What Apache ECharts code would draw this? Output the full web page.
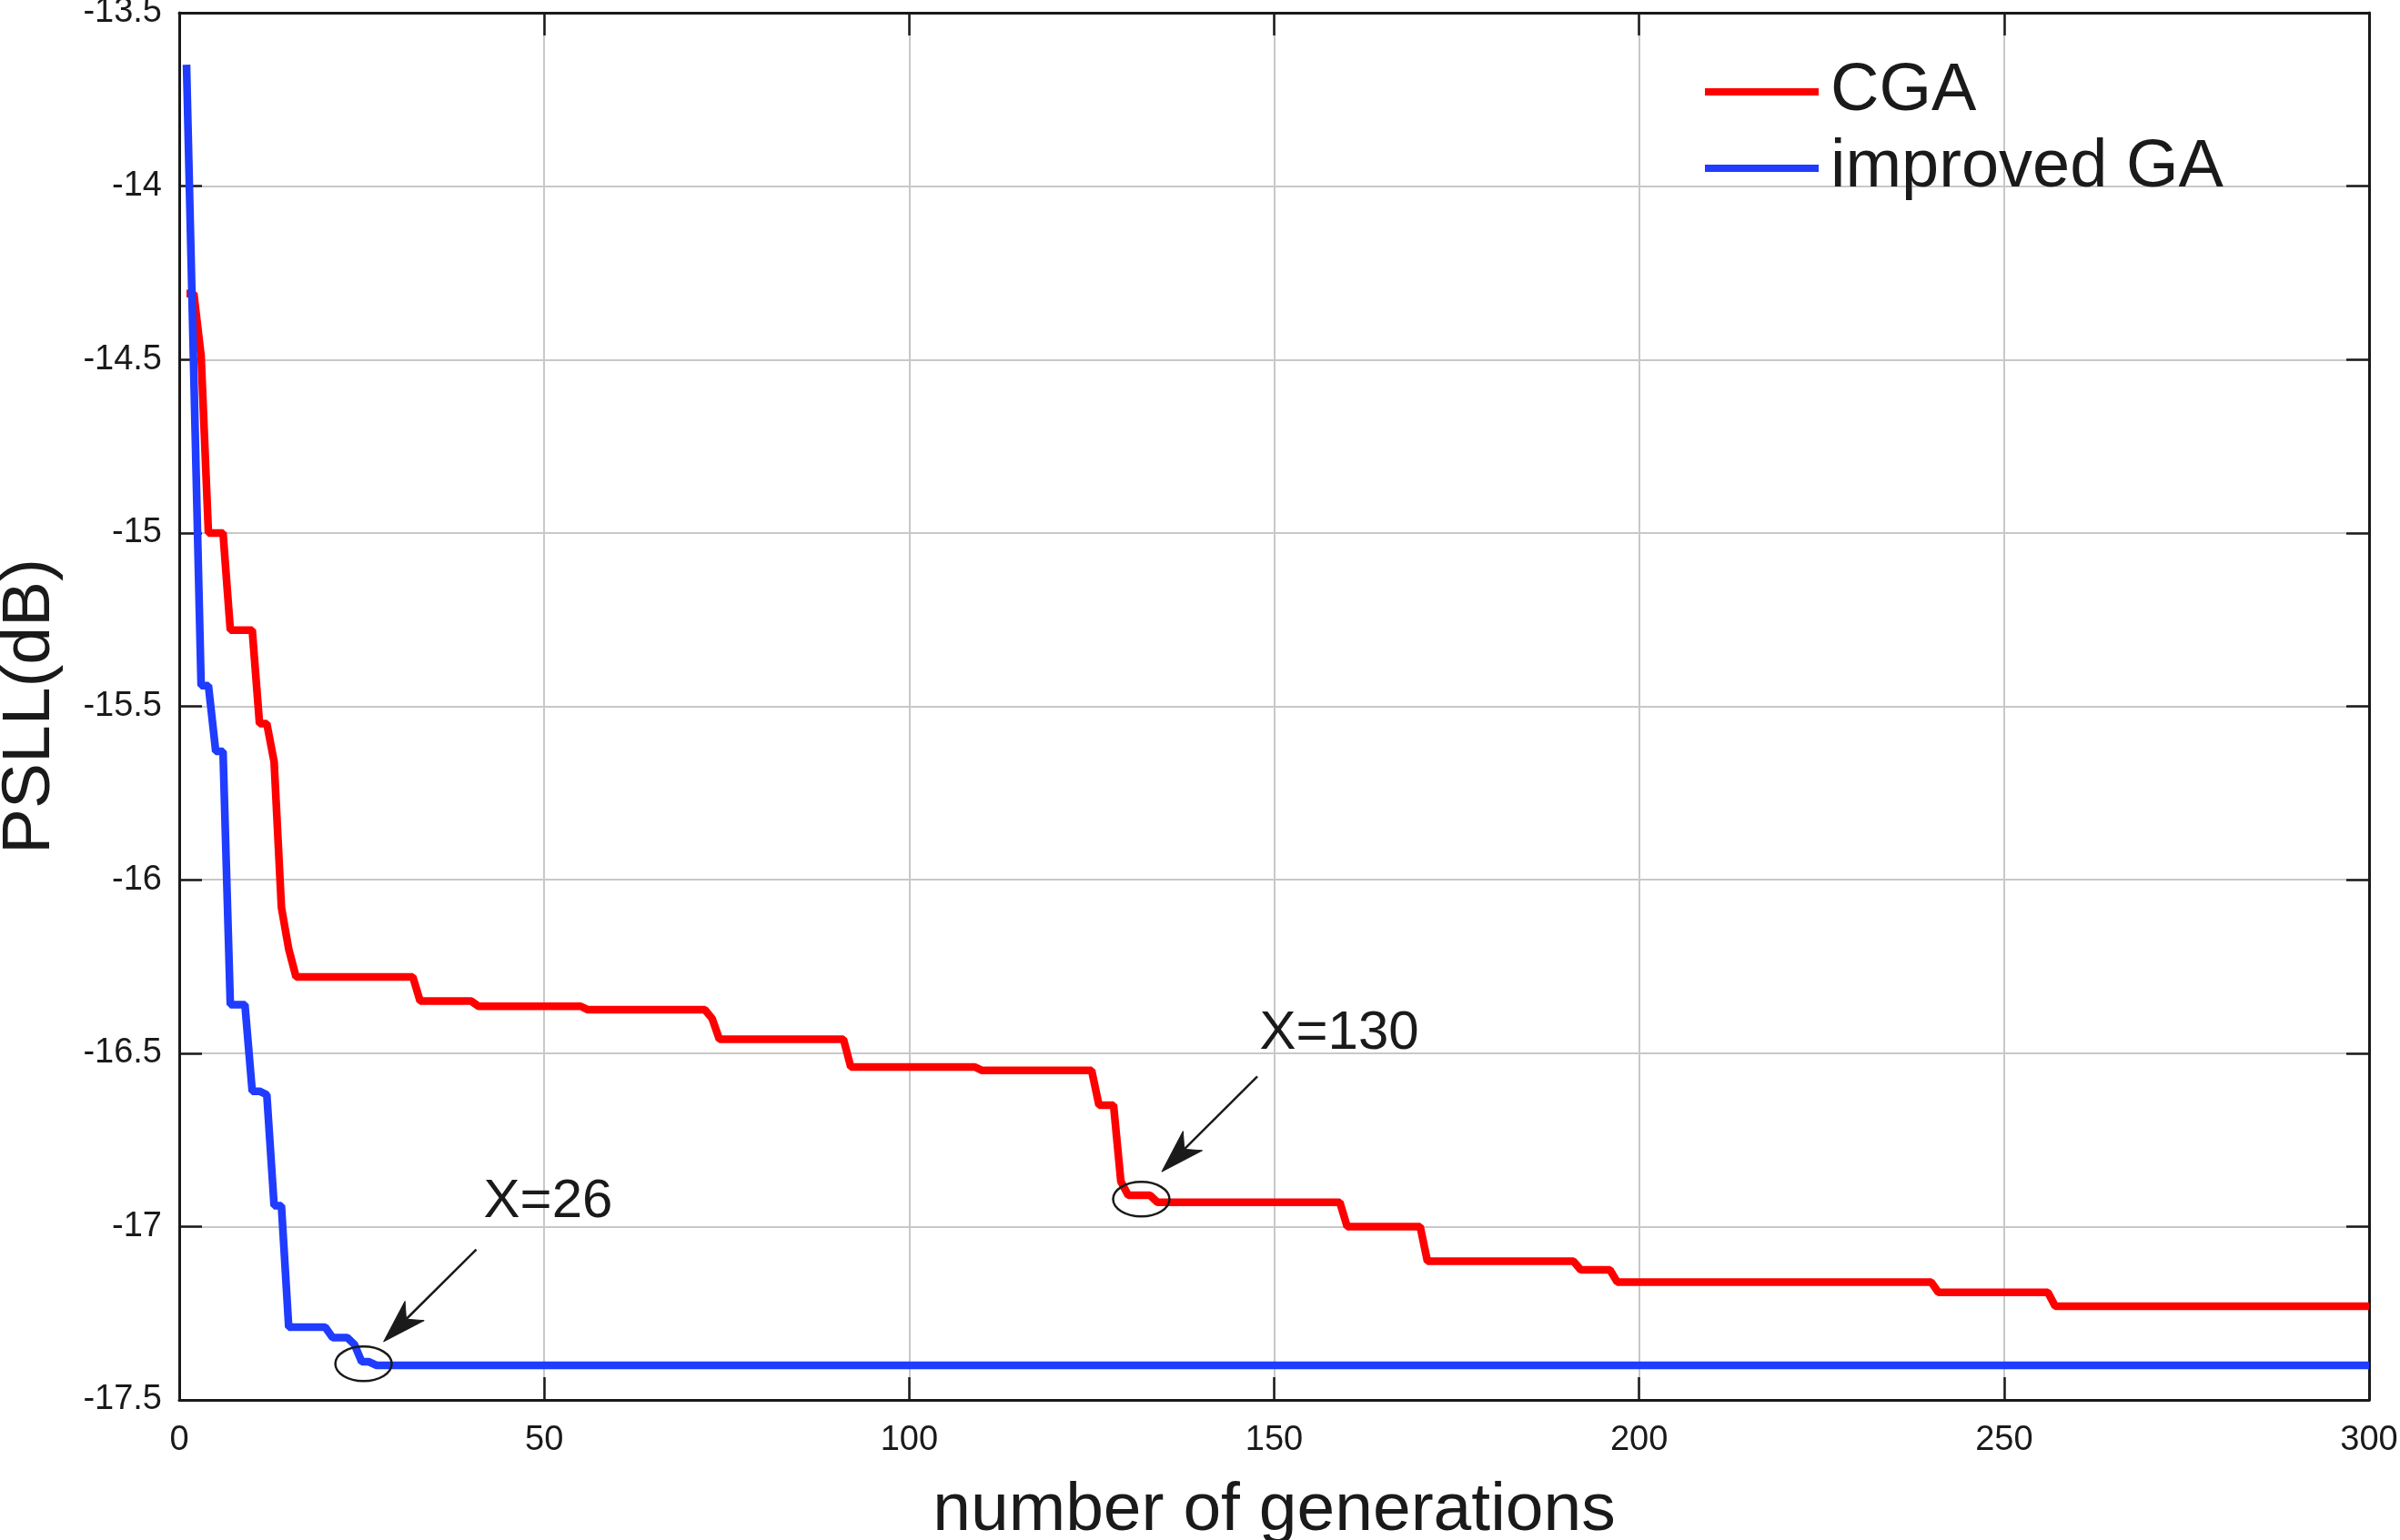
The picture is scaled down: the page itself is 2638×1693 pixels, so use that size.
<!DOCTYPE html>
<html>
<head>
<meta charset="utf-8">
<script src="https://cdn.jsdelivr.net/npm/echarts@6/dist/echarts.min.js"></script>
<style>
html,body{margin:0;padding:0;background:#fff;overflow:hidden;}
#chart{position:absolute;left:0;top:0;width:2638px;height:1693px;}
</style>
</head>
<body>
<div id="chart"></div>
<script>
// ---- data ----
const seriesNames = ['CGA', 'improved GA'];
// CGA: generation at each breakpoint and its PSLL (dB)
const cgaGen  = [1,2,3,4,6,7,10,11,12,13,14,15,16,32,33,40,41,55,56,72,73,74,91,92,109,110,125,126,128,129,130,133,134,159,160,170,171,191,192,196,197,240,241,256,257,300];
const cgaPSLL = [-14.31,-14.31,-14.49,-15.00,-15.00,-15.28,-15.28,-15.55,-15.55,-15.66,-16.08,-16.20,-16.28,-16.28,-16.35,-16.35,-16.365,-16.365,-16.375,-16.375,-16.40,-16.46,-16.46,-16.54,-16.54,-16.55,-16.55,-16.65,-16.65,-16.87,-16.91,-16.91,-16.93,-16.93,-17.00,-17.00,-17.10,-17.10,-17.125,-17.125,-17.16,-17.16,-17.19,-17.19,-17.23,-17.23];
// improved GA
const igaGen  = [1,3,4,5,6,7,9,10,11,12,13,14,15,20,21,23,24,25,26,27,300];
const igaPSLL = [-13.65,-15.44,-15.44,-15.63,-15.63,-16.36,-16.36,-16.61,-16.61,-16.62,-16.94,-16.94,-17.29,-17.29,-17.32,-17.32,-17.34,-17.39,-17.39,-17.40,-17.40];
// axes
const xRange = [0, 300], xStep = 50;
const yRange = [-17.5, -13.5], yStep = 0.5;
const xTitle = 'number of generations';
const yTitle = 'PSLL(dB)';
// annotations (data coordinates)
const annoLabels = ['X=26', 'X=130'];
const annoTextAt = [[41.7, -16.93], [148.0, -16.445]];
const annoArrowFrom = [[40.7, -17.066], [147.7, -16.567]];
const annoArrowTo = [[28.0, -17.332], [134.6, -16.842]];
const annoCircleAt = [[25.25, -17.396], [131.8, -16.921]];

const FONT = '"Liberation Sans", Arial, Helvetica, sans-serif';
const INK = '#1a1a1a';
const chart = echarts.init(document.getElementById('chart'), null, {renderer: 'canvas', width: 2638, height: 1693});

function pairs(xs, ys){ return xs.map((x, i) => [x, ys[i]]); }

const frameLine = {show: true, onZero: false, lineStyle: {color: INK, width: 3}};
const frameTick = {show: true, inside: true, length: 25, lineStyle: {color: INK, width: 2.5}};
const gridLine = {show: true, lineStyle: {color: '#c8c8c8', width: 2}};

const option = {
  animation: false,
  backgroundColor: '#ffffff',
  textStyle: {fontFamily: FONT},
  grid: {left: 197, top: 14, right: 34, bottom: 154, containLabel: false, outerBoundsMode: 'none'},
  legend: {
    orient: 'vertical', left: 1874, top: 64, padding: 0,
    itemWidth: 125, itemHeight: 8, itemGap: 10, icon: 'rect',
    data: seriesNames,
    textStyle: {fontSize: 74, color: INK, fontFamily: FONT, padding: [0, 0, 0, 8]}
  },
  xAxis: [
    {type: 'value', min: xRange[0], max: xRange[1], interval: xStep, position: 'bottom',
     name: xTitle, nameLocation: 'middle', nameGap: 85,
     nameTextStyle: {fontSize: 75, color: INK, fontFamily: FONT},
     axisLine: frameLine, axisTick: frameTick,
     axisLabel: {fontSize: 38, color: INK, margin: 26, fontFamily: FONT},
     splitLine: gridLine},
    {type: 'value', min: xRange[0], max: xRange[1], interval: xStep, position: 'top',
     axisLine: frameLine, axisTick: frameTick, axisLabel: {show: false}, splitLine: {show: false}}
  ],
  yAxis: [
    {type: 'value', min: yRange[0], max: yRange[1], interval: yStep, position: 'left',
     name: yTitle, nameLocation: 'middle', nameGap: 126, nameRotate: 90,
     nameTextStyle: {fontSize: 75, color: INK, fontFamily: FONT},
     axisLine: frameLine, axisTick: frameTick,
     axisLabel: {fontSize: 38, color: INK, margin: 19, fontFamily: FONT},
     splitLine: gridLine},
    {type: 'value', min: yRange[0], max: yRange[1], interval: yStep, position: 'right',
     axisLine: frameLine, axisTick: frameTick, axisLabel: {show: false}, splitLine: {show: false}}
  ],
  series: [
    {name: seriesNames[0], type: 'line', xAxisIndex: 0, yAxisIndex: 0,
     data: pairs(cgaGen, cgaPSLL), symbol: 'none', showSymbol: false,
     lineStyle: {color: '#ff0000', width: 8.5}, itemStyle: {color: '#ff0000'}, z: 3},
    {name: seriesNames[1], type: 'line', xAxisIndex: 0, yAxisIndex: 0,
     data: pairs(igaGen, igaPSLL), symbol: 'none', showSymbol: false,
     lineStyle: {color: '#1f3cff', width: 8.5}, itemStyle: {color: '#1f3cff'}, z: 4}
  ]
};
chart.setOption(option);

// annotations positioned through the chart's own scales
function px(p){ return chart.convertToPixel({xAxisIndex: 0, yAxisIndex: 0}, p); }
const graphics = [];
for (let i = 0; i < annoLabels.length; i++) {
  const s = px(annoArrowFrom[i]), t = px(annoArrowTo[i]);
  let ux = s[0] - t[0], uy = s[1] - t[1];
  const len = Math.hypot(ux, uy); ux /= len; uy /= len;
  const qx = -uy, qy = ux;
  const L = 48, W = 15, N = 35;
  graphics.push({type: 'line', z: 10,
    shape: {x1: s[0], y1: s[1], x2: t[0] + ux * N, y2: t[1] + uy * N},
    style: {stroke: INK, lineWidth: 2.5}});
  graphics.push({type: 'polygon', z: 10,
    shape: {points: [[t[0], t[1]],
                     [t[0] + ux * L + qx * W, t[1] + uy * L + qy * W],
                     [t[0] + ux * N, t[1] + uy * N],
                     [t[0] + ux * L - qx * W, t[1] + uy * L - qy * W]]},
    style: {fill: INK, stroke: INK, lineWidth: 1}});
  const c = px(annoCircleAt[i]);
  graphics.push({type: 'ellipse', z: 10,
    shape: {cx: c[0], cy: c[1], rx: 31, ry: 19},
    style: {fill: 'none', stroke: INK, lineWidth: 2.5}});
  const tp = px(annoTextAt[i]);
  graphics.push({type: 'text', z: 10, x: tp[0], y: tp[1],
    style: {text: annoLabels[i], font: '60px ' + FONT, fill: INK, align: 'left', verticalAlign: 'middle'}});
}
chart.setOption({graphic: graphics});
</script>
</body>
</html>
